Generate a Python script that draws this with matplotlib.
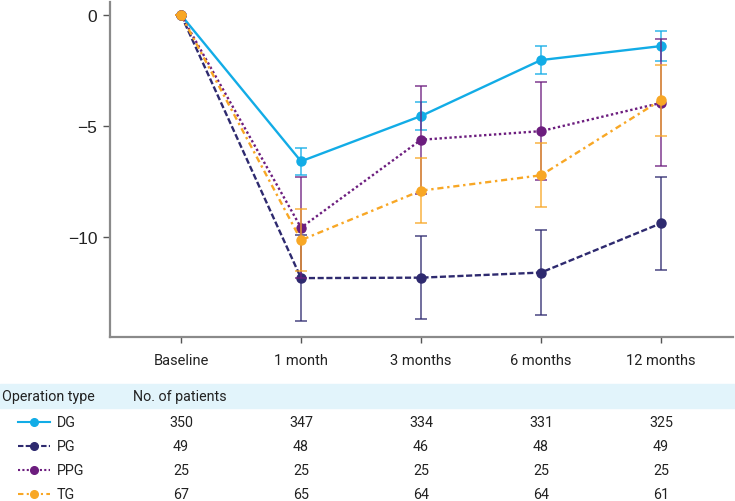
import numpy as np
import matplotlib
matplotlib.use("Agg")
import matplotlib.pyplot as plt

# time points and groups
timepoints = ["Baseline", "1 month", "3 months", "6 months", "12 months"]
groups = ["DG", "PG", "PPG", "TG"]

# mean change and error
dg_mean = [0, -6.59, -4.55, -2.03, -1.40]
dg_err = [0, 0.62, 0.65, 0.64, 0.68]
pg_mean = [0, -11.85, -11.83, -11.60, -9.38]
pg_err = [0, 1.92, 1.88, 1.93, 2.09]
ppg_mean = [0, -9.58, -5.62, -5.23, -3.96]
ppg_err = [0, 2.27, 2.44, 2.21, 2.86]
tg_mean = [0, -10.14, -7.91, -7.22, -3.83]
tg_err = [0, 1.39, 1.45, 1.45, 1.60]

# number of patients
dg_n = [350, 347, 334, 331, 325]
pg_n = [49, 48, 46, 48, 49]
ppg_n = [25, 25, 25, 25, 25]
tg_n = [67, 65, 64, 64, 61]

colors = ["#12ace6", "#2e2a6f", "#6c1d7e", "#f8a725"]
styles = ["-", (0, (2.6, 1.1)), (0, (1.0, 1.1)), (0, (2.6, 1.6, 1.0, 1.6))]

means = [dg_mean, pg_mean, ppg_mean, tg_mean]
errs = [dg_err, pg_err, ppg_err, tg_err]
counts = [dg_n, pg_n, ppg_n, tg_n]

W, H = 735, 502
fig = plt.figure(figsize=(W / 100, H / 100), dpi=100)

l, r = 110 / W, 733 / W
b, t = 1 - 337.5 / H, 1 - 3 / H
ax = fig.add_axes([l, b, r - l, t - b])

x = np.arange(len(timepoints))
for m, e, c, s in zip(means, errs, colors, styles):
    ax.errorbar(x, m, yerr=e, color=c, ecolor=c, elinewidth=1.2, capsize=4.5,
                capthick=1.2, linestyle="none", alpha=0.8)
    ax.plot(x, m, color=c, linestyle=s, linewidth=1.7, marker="o",
            markersize=6.5)

ax.set_xlim(-0.592, 4.6)
ax.set_ylim(-14.48, 0.585)
ax.set_xticks(x)
ax.set_xticklabels(timepoints, fontsize=10.5, family=["Roboto", "DejaVu Sans"],
                   color="#222222")
ax.set_yticks([0, -5, -10])
ax.set_yticklabels(["0", "\u22125", "\u221210"], fontsize=12.5,
                   family=["Liberation Sans", "DejaVu Sans"], color="#222222")
ax.tick_params(axis="x", length=4, width=1, color="#555555", pad=8)
ax.tick_params(axis="y", length=5, width=1, color="#555555", pad=4)
for side in ["top", "right"]:
    ax.spines[side].set_visible(False)
for side in ["left", "bottom"]:
    ax.spines[side].set_color("#8a8a8a")
    ax.spines[side].set_linewidth(1.6)

# table below, sharing the horizontal scale with the chart
x0, x1 = ax.get_xlim()
k = (x1 - x0) / (r - l)
row_px = 24
top_row, bot_row = -0.583, 4.38
th = (bot_row - top_row) * row_px / H
tax = fig.add_axes([0, 0, 1, th])
tax.set_xlim(x0 - l * k, x0 + (1 - l) * k)
tax.set_ylim(bot_row, top_row)
tax.axis("off")

tfont = dict(fontsize=10.3, family=["Roboto", "DejaVu Sans"], color="#222222")
tax.axhspan(-0.5, 0.5, color="#e2f4fb", zorder=0)
px = lambda p: (p - 181) / 120  # pixel column to category units
tax.text(px(2), 0, "Operation type", ha="left", va="center", **tfont)
tax.text(px(133), 0, "No. of patients", ha="left", va="center", **tfont)

for i, (g, c, s, n) in enumerate(zip(groups, colors, styles, counts)):
    yy = 1.08 + i
    tax.plot([px(18), px(50)], [yy, yy], color=c, linestyle=s, linewidth=1.5)
    tax.plot([px(34)], [yy], color=c, marker="o", markersize=5.5)
    tax.text(px(57), yy, g, ha="left", va="center", **tfont)
    for xi, v in zip(x, n):
        tax.text(xi, yy, str(v), ha="center", va="center", **tfont)

fig.savefig("out.png", dpi=100)
